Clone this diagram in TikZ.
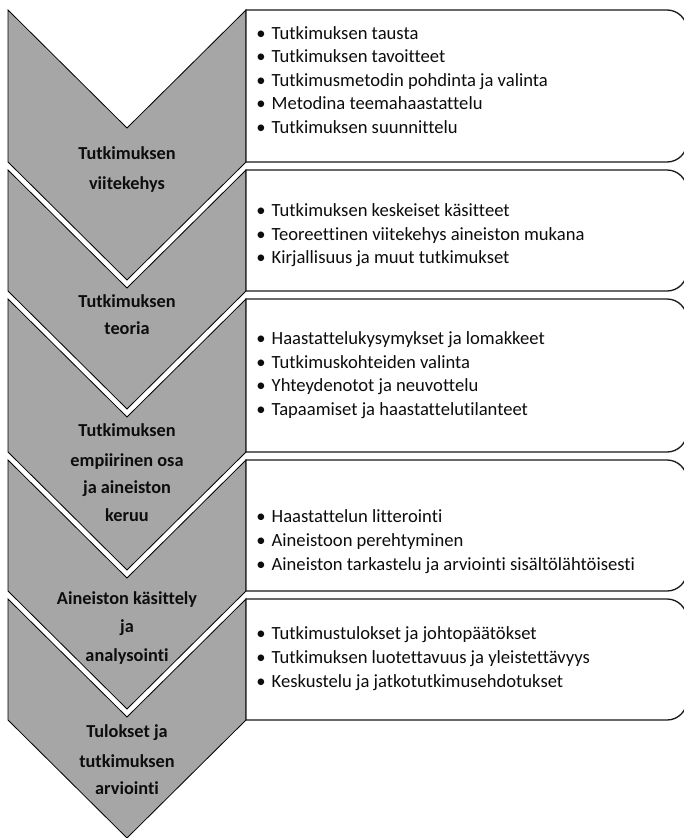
\documentclass[tikz,border=0pt]{standalone}
\usepackage{fontspec}
\setmainfont{Carlito}[Ligatures=NoCommon]
\definecolor{chevgray}{HTML}{A6A6A6}
\definecolor{inktext}{HTML}{0D0D0D}
\tikzset{
  x=1pt, y=1pt,
  chevron/.style={fill=chevgray, draw=black, line width=0.8pt, line join=miter},
  itembox/.style={fill=white, draw=black!90, line width=1.3pt},
  steplabel/.style={font=\fontsize{18.3}{20}\selectfont\bfseries, text=inktext, anchor=base, inner sep=0pt},
  bulletmark/.style={font=\fontsize{18.6}{20}\selectfont, text=inktext, anchor=base, inner sep=0pt},
  itemtext/.style={font=\fontsize{18.6}{20}\selectfont, text=inktext, anchor=base west, inner sep=0pt},
}
% chevron: #1 = top corner y, #2 = lower side end y
\newcommand{\chevronshape}[2]{%
  \draw[chevron] (8,-#1) -- (127,-#1-118) -- (246,-#1) -- (246,-#2)
    -- (127,-#2-118) -- (8,-#2) -- cycle;}
% white list box with rounded right corners
\newcommand{\listbox}[2]{%
  \draw[itembox] (246,-#1) -- (667,-#1) arc[start angle=90, end angle=0, radius=20]
    -- (687,-#2+20) arc[start angle=0, end angle=-90, radius=20] -- (246,-#2) -- cycle;}
% bullet item: #1 name, #2 baseline y, #3 text
\newcommand{\listitem}[3]{%
  \node[bulletmark] (#1b) at (261,-#2) {•};
  \node[itemtext] (#1) at (271.5,-#2) {#3};}
\begin{document}
\begin{tikzpicture}
\clip (0,0) rectangle (684,-838);
\fill[white] (0,0) rectangle (684,-838);

% chevrons and boxes, top to bottom
\chevronshape{10}{162}   \listbox{10}{162}
\chevronshape{170}{291}  \listbox{170}{291}
\chevronshape{299}{452}  \listbox{299}{452}
\chevronshape{460}{591}  \listbox{460}{591}
\chevronshape{599}{720}  \listbox{599}{720}

% step labels
\node[steplabel] (s1a) at (127,-159.5) {Tutkimuksen};
\node[steplabel] (s1b) at (127,-189) {viitekehys};
\node[steplabel] (s2a) at (127,-307.5) {Tutkimuksen};
\node[steplabel] (s2b) at (127,-334.5) {teoria};
\node[steplabel] (s3a) at (127,-436.5) {Tutkimuksen};
\node[steplabel] (s3b) at (127,-466.5) {empiirinen osa};
\node[steplabel] (s3c) at (127,-493.5) {ja aineiston};
\node[steplabel] (s3d) at (127,-521.5) {keruu};
\node[steplabel] (s4a) at (127,-604.5) {Aineiston käsittely};
\node[steplabel] (s4b) at (127,-632.5) {ja};
\node[steplabel] (s4c) at (127,-661.5) {analysointi};
\node[steplabel] (s5a) at (127,-737.5) {Tulokset ja};
\node[steplabel] (s5b) at (127,-767.5) {tutkimuksen};
\node[steplabel] (s5c) at (127,-794.5) {arviointi};

% list items
\listitem{a1}{39}{Tutkimuksen tausta}
\listitem{a2}{62.5}{Tutkimuksen tavoitteet}
\listitem{a3}{86}{Tutkimusmetodin pohdinta ja valinta}
\listitem{a4}{109.5}{Metodina teemahaastattelu}
\listitem{a5}{133}{Tutkimuksen suunnittelu}

\listitem{b1}{216.5}{Tutkimuksen keskeiset käsitteet}
\listitem{b2}{240.5}{Teoreettinen viitekehys aineiston mukana}
\listitem{b3}{263.5}{Kirjallisuus ja muut tutkimukset}

\listitem{c1}{344.5}{Haastattelukysymykset ja lomakkeet}
\listitem{c2}{368.5}{Tutkimuskohteiden valinta}
\listitem{c3}{391.5}{Yhteydenotot ja neuvottelu}
\listitem{c4}{415.5}{Tapaamiset ja haastattelutilanteet}

\listitem{d1}{522.5}{Haastattelun litterointi}
\listitem{d2}{546.5}{Aineistoon perehtyminen}
\listitem{d3}{570.5}{Aineiston tarkastelu ja arviointi sisältölähtöisesti}

\listitem{e1}{639.5}{Tutkimustulokset ja johtopäätökset}
\listitem{e2}{663.5}{Tutkimuksen luotettavuus ja yleistettävyys}
\listitem{e3}{687.5}{Keskustelu ja jatkotutkimusehdotukset}
\end{tikzpicture}
\end{document}
